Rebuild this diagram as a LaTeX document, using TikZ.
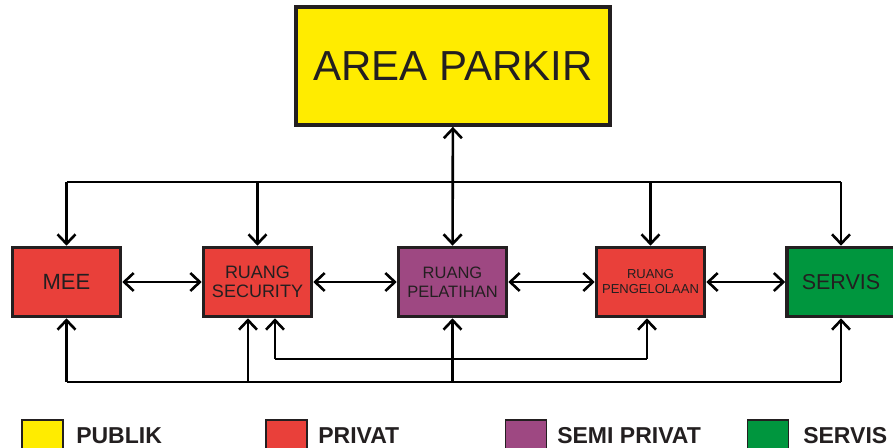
\documentclass[tikz,border=0pt]{standalone}
\usepackage{fontspec}
\setmainfont{Liberation Sans}
\usetikzlibrary{positioning, arrows.meta}

\definecolor{kuning}{RGB}{255,236,0}
\definecolor{merah}{RGB}{233,64,58}
\definecolor{ungu}{RGB}{158,72,130}
\definecolor{hijau}{RGB}{0,150,62}
\definecolor{tinta}{RGB}{35,31,32}

\begin{document}
\begin{tikzpicture}[
    x=1pt, y=-1pt,
    > = {Straight Barb[length=9.5pt, width=18pt]},
    line width=2.6pt,
    ruang/.style={draw=tinta, line width=3.6pt, inner sep=0pt, text=tinta,
                  minimum width=108pt, minimum height=69pt, align=center},
    legbox/.style={draw=tinta, line width=1.2pt, minimum width=41pt, minimum height=32pt, inner sep=0pt},
    legtext/.style={anchor=base west, font=\bfseries\fontsize{23}{23}\selectfont, text=tinta, inner sep=0pt}
]
\useasboundingbox (0,0) rectangle (893,447);

% --- Area parkir ---
\node[ruang, fill=kuning, minimum width=314pt, minimum height=118pt,
      font=\fontsize{42}{42}\selectfont] (parkir) at (453,66) {AREA PARKIR};

% --- Ruang-ruang ---
\node[ruang, fill=merah, font=\fontsize{22}{22}\selectfont] (mee) at (66.5,282) {MEE};
\node[ruang, fill=merah, font=\fontsize{18}{19}\selectfont] (sec) at (257.5,282) {RUANG\\SECURITY};
\node[ruang, fill=ungu, font=\fontsize{16.5}{19}\selectfont] (latih) at (452.5,282) {RUANG\\PELATIHAN};
\node[ruang, fill=merah, font=\fontsize{13}{15}\selectfont] (kelola) at (650.5,282) {RUANG\\PENGELOLAAN};
\node[ruang, fill=hijau, font=\fontsize{21.5}{22}\selectfont] (servis) at (841,282) {SERVIS};

% Hubungan antar ruang
\draw[<->] (mee) -- (sec);
\draw[<->] (sec) -- (latih);
\draw[<->] (latih) -- (kelola);
\draw[<->] (kelola) -- (servis);

% Jalur atas ke area parkir
\coordinate (atas) at (0,182);
\draw (mee.north |- atas) -- (servis.north |- atas);
\draw[<->] (latih) -- (parkir);
\draw[->] (mee.north |- atas) -- (mee.north);
\draw[->] (sec.north |- atas) -- (sec.north);
\draw[->] (kelola.north |- atas) -- (kelola.north);
\draw[->] (servis.north |- atas) -- (servis.north);

% Jalur bawah
\coordinate (bawah) at (0,382);
\coordinate (tengah) at (0,359);
\draw (mee.south |- bawah) -- (servis.south |- bawah);
\draw ([xshift=17.5pt]sec.south |- tengah) -- ([xshift=-3.5pt]kelola.south |- tengah);
\draw[->] (mee.south |- bawah) -- (mee.south);
\draw[->] ([xshift=-9.5pt]sec.south |- bawah) -- ([xshift=-9.5pt]sec.south);
\draw[->] ([xshift=17.5pt]sec.south |- tengah) -- ([xshift=17.5pt]sec.south);
\draw[->] (latih.south |- bawah) -- (latih.south);
\draw[->] ([xshift=-3.5pt]kelola.south |- tengah) -- ([xshift=-3.5pt]kelola.south);
\draw[->] (servis.south |- bawah) -- (servis.south);

% --- Legenda ---
\node[legbox, fill=kuning] (lgpublik) at (42.5,436) {};
\node[legtext] (tpublik) at (75,443) {PUBLIK};
\node[legbox, fill=merah] (lgprivat) at (286.5,436) {};
\node[legtext] (tprivat) at (317,443) {PRIVAT};
\node[legbox, fill=ungu] (lgsemi) at (526,436) {};
\node[legtext] (tsemi) at (556,443) {SEMI PRIVAT};
\node[legbox, fill=hijau] (lgservis) at (768,436) {};
\node[legtext] (tservis) at (802,443) {SERVIS};

\end{tikzpicture}
\end{document}
